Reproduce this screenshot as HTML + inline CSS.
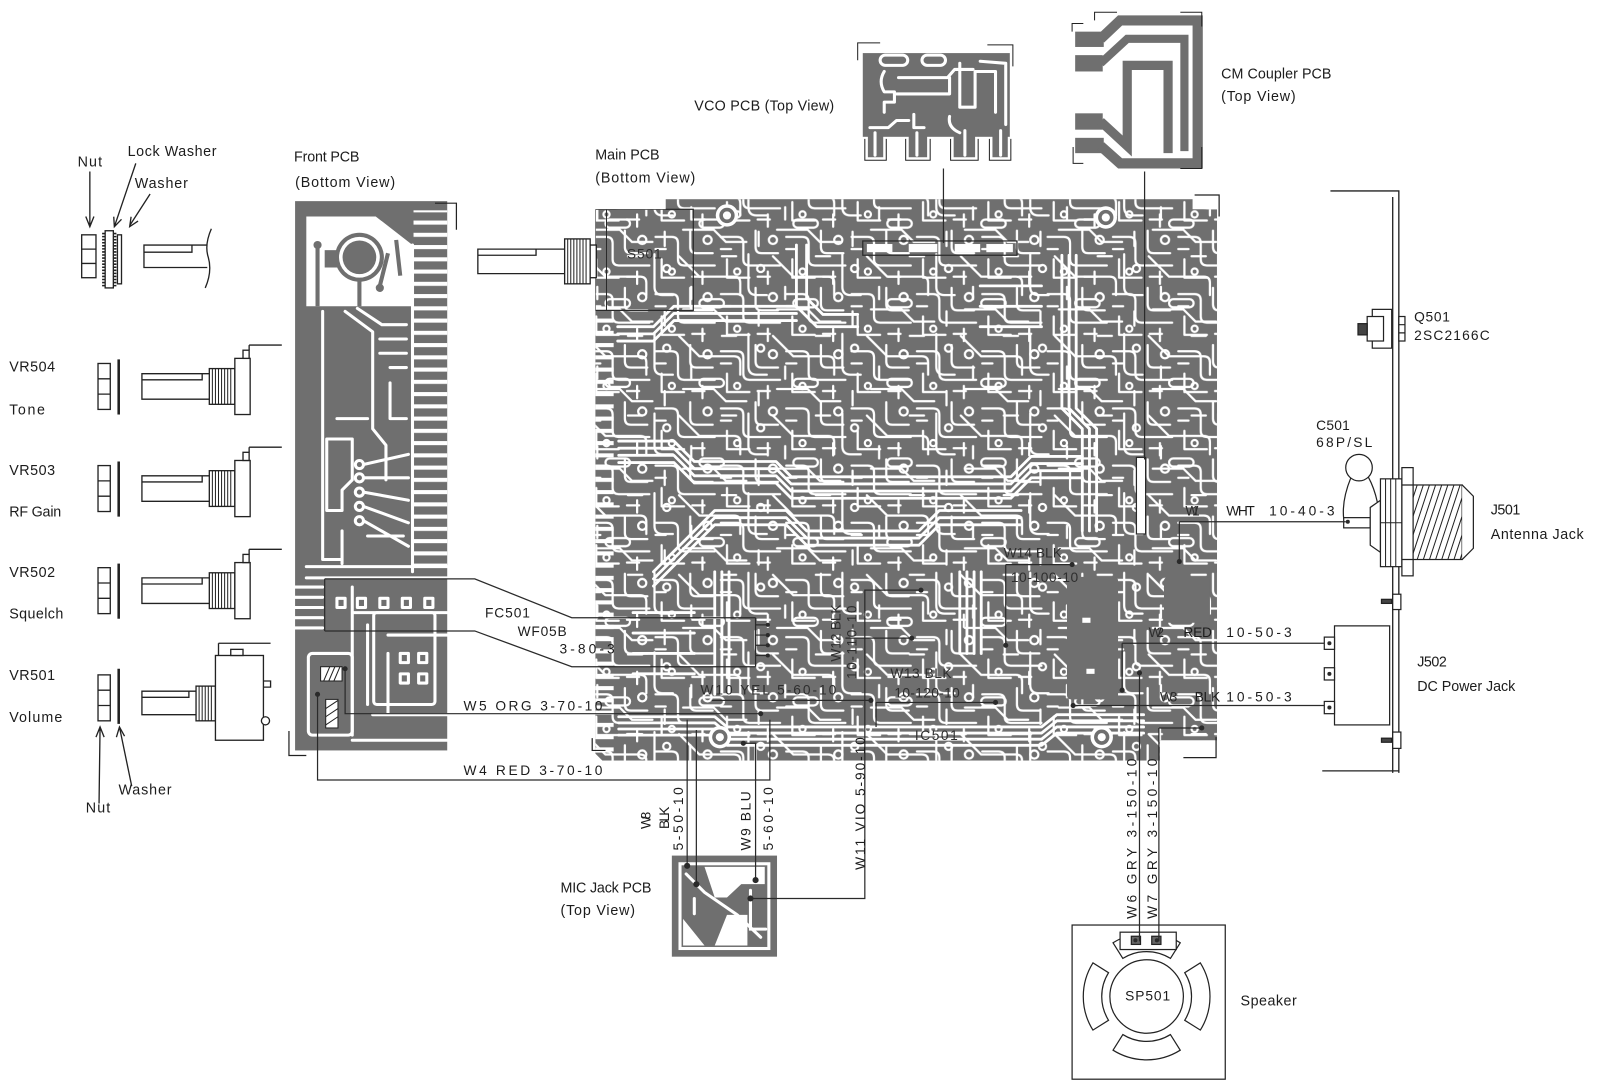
<!DOCTYPE html>
<html><head><meta charset="utf-8"><title>PCB layout</title>
<style>
html,body{margin:0;padding:0;background:#fff;overflow:hidden}
svg{display:block}
text{font-family:"Liberation Sans",sans-serif;fill:#1c1c1c;font-size:14px}
.m{font-size:13.5px}
.g{fill:#2e2e2e}
</style></head><body>
<svg xmlns="http://www.w3.org/2000/svg" width="1601" height="1089" viewBox="0 0 1568 1066.6" preserveAspectRatio="none">
<defs>
<pattern id="p1" width="64" height="56" patternUnits="userSpaceOnUse">
<g fill="none" stroke="#fff" stroke-width="2.2" stroke-linecap="round" stroke-linejoin="round">
<path d="M2,8H18Q24,8 24,14V30Q24,36 30,36H60M2,20H12M36,2V18Q36,24 42,24H58M48,42V54M8,30V48H30M38,47H50"/>
<circle cx="53" cy="11" r="4"/><circle cx="18" cy="42" r="3"/>
</g></pattern>
<pattern id="p2" width="92" height="78" patternUnits="userSpaceOnUse" patternTransform="translate(17,11)">
<g fill="none" stroke="#fff" stroke-width="2.2" stroke-linecap="round" stroke-linejoin="round">
<path d="M4,6L24,26H58Q64,26 64,32V44M72,4V36Q72,44 80,44H90M8,58H38L50,70H70M82,60V74M16,36V48M46,6H60M28,48h16a4,4 0 0 1 0,8h-16a4,4 0 0 1 0,-8z"/>
<circle cx="84" cy="18" r="3.5"/>
</g></pattern>
<pattern id="bars" width="40" height="12" patternUnits="userSpaceOnUse"><rect x="0" y="0" width="40" height="4" fill="#fff"/></pattern>
<clipPath id="mc"><path d="M583,205H652V195H1168V205H1192V725H1136V745H590L583,738Z"/></clipPath>
<clipPath id="thr"><rect x="1384" y="475" width="48" height="73"/></clipPath>
<g id="pot" fill="#fff" stroke="#222" stroke-width="1.3">
<rect x="96" y="356" width="12" height="45"/>
<path d="M96,371H108M96,386H108" fill="none"/>
<rect x="115" y="352" width="2.5" height="54" fill="#222" stroke="none"/>
<path d="M205,366H139V391H205"/>
<path d="M139,372H198V366" fill="none"/>
<rect x="205" y="361" width="25" height="35"/>
<path d="M208,361V396M211,361V396M214,361V396M217,361V396M220,361V396M223,361V396M226,361V396" fill="none" stroke-width="1"/>
<rect x="230" y="351" width="15" height="55"/>
<rect x="238" y="343" width="6" height="8"/>
<path d="M244,338H276M244,338V343" fill="none"/>
</g>
</defs>

<!-- ===== left hardware ===== -->
<g fill="#fff" stroke="#222" stroke-width="1.3">
<rect x="80" y="230" width="14" height="42"/>
<path d="M80,244H94M80,258H94" fill="none"/>
<rect x="103" y="226" width="8" height="56"/>
<line x1="101.5" y1="228" x2="101.5" y2="281" stroke-width="3" stroke-dasharray="1.5,1.5"/>
<line x1="112.5" y1="228" x2="112.5" y2="281" stroke-width="3" stroke-dasharray="1.5,1.5"/>
<rect x="115" y="230" width="4" height="48"/>
<path d="M203,240H141V262H203"/>
<path d="M141,247H188V240" fill="none"/>
<path d="M207,224Q200,240 204,252Q208,266 201,282" fill="none"/>
<path d="M88,168V221M84,212L88,222L92,212" fill="none"/>
<path d="M133,160L112,222M111.4,212.2L112,222L119,214.8" fill="none"/>
<path d="M147,190L127,221M128.4,212.3L127,222L135.2,216.5" fill="none"/>
<path d="M97,787L98,712M94,722L98,712L102,722" fill="none"/>
<path d="M129,770L117,712M114,722L117,712L122,721" fill="none"/>
</g>
<use href="#pot"/>
<use href="#pot" y="100"/>
<use href="#pot" y="200"/>
<g fill="#fff" stroke="#222" stroke-width="1.3">
<rect x="96" y="661" width="12" height="45"/>
<path d="M96,676H108M96,691H108" fill="none"/>
<rect x="115" y="655" width="2.5" height="54" fill="#222" stroke="none"/>
<path d="M192,677H139V700H192"/>
<path d="M139,683H185V677" fill="none"/>
<rect x="192" y="672" width="19" height="34"/>
<path d="M195,672V706M198,672V706M201,672V706M204,672V706M207,672V706" fill="none" stroke-width="1"/>
<rect x="211" y="642" width="47" height="83"/>
<rect x="226" y="636" width="12" height="6"/>
<path d="M214,630H265M214,630V642" fill="none"/>
<path d="M258,667H265V673H258" fill="none"/>
<circle cx="260" cy="706" r="4"/>
</g>

<!-- ===== Front PCB ===== -->
<g>
<rect x="289" y="197" width="149" height="538" fill="#6f6f6f"/>
<path d="M300,212H368L404,240V300H300Z" fill="#fff"/>
<circle cx="352" cy="252" r="24" fill="#6f6f6f"/>
<circle cx="352" cy="252" r="20" fill="#fff"/>
<circle cx="352" cy="252" r="16.5" fill="#6f6f6f"/>
<rect x="318" y="245" width="14" height="17" fill="#6f6f6f"/>
<circle cx="311" cy="240" r="4" fill="#6f6f6f"/>
<path d="M311,240V300M352,272V300M380,248L372,280M388,235L392,270" stroke="#6f6f6f" stroke-width="4" fill="none"/>
<circle cx="372" cy="282" r="4" fill="#6f6f6f"/>
<rect x="405" y="206" width="33" height="356" fill="url(#bars)"/>
<g fill="none" stroke="#fff" stroke-width="3" stroke-linecap="round" stroke-linejoin="round">
<path d="M404,240V560"/>
<path d="M316,305V548H334"/>
<path d="M320,430H345V470L335,480V500H320Z"/>
<path d="M338,305L365,325V420L378,436V470"/>
<path d="M350,302L374,318H398"/>
<path d="M372,332H398M372,346H398M382,360H398M382,375V410H398"/>
<path d="M356,455L400,445M356,468L400,468M356,482L400,490M356,496L400,512M356,510L400,535"/>
<path d="M300,555H438M335,520V552M360,525H395M330,410H360"/>
<circle cx="352" cy="455" r="4"/><circle cx="352" cy="468" r="4"/><circle cx="352" cy="482" r="4"/><circle cx="352" cy="496" r="4"/><circle cx="352" cy="510" r="4"/>
<path d="M289,575H316M289,585H316M289,595H316M289,605H316M289,615H316"/>
<path d="M300,566H438M345,600H438M360,612V690M380,622H438M380,640V700M345,725H438M365,700H438M345,575V720"/>
<rect x="302" y="640" width="43" height="80" rx="4"/>
<rect x="330" y="586" width="8" height="9"/><rect x="350" y="586" width="8" height="9"/><rect x="372" y="586" width="8" height="9"/><rect x="394" y="586" width="8" height="9"/><rect x="416" y="586" width="8" height="9"/>
<rect x="392" y="640" width="8" height="9"/><rect x="410" y="640" width="8" height="9"/><rect x="392" y="660" width="8" height="9"/><rect x="410" y="660" width="8" height="9"/>
<rect x="366" y="600" width="60" height="90" rx="3"/>
</g>
<g fill="#fff" stroke="#222" stroke-width="1">
<rect x="314" y="653" width="21" height="14"/>
<path d="M317,667L323,653M322,667L328,653M327,667L333,653" fill="none"/>
<rect x="319" y="685" width="12" height="28"/>
<path d="M319,694L331,686M319,702L331,694M319,710L331,702" fill="none"/>
</g>
<path d="M283,716V740H300M426,199H447V225" fill="none" stroke="#222" stroke-width="1.2"/>
</g>

<!-- ===== Main PCB ===== -->
<g clip-path="url(#mc)">
<rect x="580" y="190" width="620" height="560" fill="#6f6f6f"/>
<rect x="580" y="190" width="620" height="560" fill="url(#p1)"/>
<rect x="580" y="190" width="620" height="560" fill="url(#p2)"/>
<rect x="583" y="300" width="18" height="440" fill="url(#bars)"/>
<rect x="1045" y="565" width="50" height="120" rx="4" fill="#6f6f6f"/>
<rect x="1140" y="565" width="45" height="45" rx="4" fill="#6f6f6f"/>
<rect x="1060" y="605" width="8" height="5" fill="#fff"/>
<rect x="1064" y="655" width="8" height="5" fill="#fff"/>
<g fill="none" stroke="#fff" stroke-width="2.8" stroke-linecap="round" stroke-linejoin="round">
<path id="bA" d="M606,432H660L680,452H760L775,467H990L1010,447H1060"/>
<use href="#bA" y="7"/><use href="#bA" y="14"/><use href="#bA" y="21"/>
<path id="bB" d="M640,560L700,500H770L790,520H900L920,500H1000"/>
<use href="#bB" y="7"/><use href="#bB" y="14"/>
<path id="bC" d="M606,702H700L712,712H1020L1035,700H1120"/>
<use href="#bC" y="6"/><use href="#bC" y="12"/><use href="#bC" y="18"/>
<path id="bE" d="M605,320H640L660,300H780"/>
<use href="#bE" y="7"/><use href="#bE" y="14"/>
<path id="bF" d="M1040,250V400L1060,420V520"/>
<use href="#bF" x="7"/><use href="#bF" x="14"/>
<path id="bG" d="M940,560V640"/>
<use href="#bG" x="7"/><use href="#bG" x="14"/><use href="#bG" x="21"/>
<path id="bH" d="M700,560V680"/>
<use href="#bH" x="7"/><use href="#bH" x="14"/>
<path d="M620,600H680M620,620H680M620,640H680M620,660H680"/>
<path d="M960,280H1020M960,300H1020M960,320H1020"/>
<path d="M780,240V300L800,320H840M790,240V292L806,308H840"/>
</g>
<g>
<circle cx="712" cy="211" r="11" fill="#fff"/><circle cx="712" cy="211" r="7.5" fill="#6f6f6f"/><circle cx="712" cy="211" r="4" fill="#fff"/>
<circle cx="1083" cy="213" r="11" fill="#fff"/><circle cx="1083" cy="213" r="7.5" fill="#6f6f6f"/><circle cx="1083" cy="213" r="4" fill="#fff"/>
<circle cx="705" cy="722" r="11" fill="#fff"/><circle cx="705" cy="722" r="7.5" fill="#6f6f6f"/><circle cx="705" cy="722" r="4" fill="#fff"/>
<circle cx="1079" cy="722" r="11" fill="#fff"/><circle cx="1079" cy="722" r="7.5" fill="#6f6f6f"/><circle cx="1079" cy="722" r="4" fill="#fff"/>
</g>
<g fill="#fff"><rect x="849" y="239" width="25" height="8"/><rect x="890" y="239" width="28" height="8"/><rect x="935" y="239" width="25" height="8"/><rect x="966" y="239" width="26" height="8"/></g>
<rect x="845" y="236" width="151" height="14" fill="none" stroke="#2a2a2a" stroke-width="1.2"/>
<rect x="1113" y="448" width="9" height="75" fill="#fff" stroke="#2a2a2a" stroke-width="1.2"/>
<rect x="583" y="205" width="96" height="99" fill="none" stroke="#2a2a2a" stroke-width="1.2"/>
<path d="M594,205V304" stroke="#2a2a2a" stroke-width="1"/>
</g>
<path d="M580,723V735H593M1159,742H1191V722M1170,191H1194V212" fill="none" stroke="#222" stroke-width="1.2"/>

<!-- S501 shaft -->
<g fill="#fff" stroke="#222" stroke-width="1.3">
<path d="M553,244H468V268H553"/>
<path d="M468,250H525V244" fill="none"/>
<rect x="553" y="234" width="25" height="44"/>
<path d="M556,234V278M559,234V278M562,234V278M565,234V278M568,234V278M571,234V278M574,234V278" fill="none" stroke-width="1"/>
<rect x="578" y="240" width="6" height="32"/>
</g>

<!-- ===== VCO PCB ===== -->
<g>
<rect x="845" y="52" width="144" height="82" fill="#6f6f6f"/>
<rect x="850" y="132" width="15" height="22" fill="#6f6f6f"/><rect x="890" y="132" width="18" height="22" fill="#6f6f6f"/><rect x="934" y="132" width="21" height="22" fill="#6f6f6f"/><rect x="972" y="132" width="15" height="22" fill="#6f6f6f"/>
<g fill="none" stroke="#fff" stroke-width="3" stroke-linecap="round" stroke-linejoin="round">
<rect x="862" y="54" width="27" height="10" rx="5"/><rect x="903" y="54" width="23" height="10" rx="5"/>
<path d="M866,70Q860,80 866,90H876V100H866V110"/>
<path d="M880,76H928L935,68H953"/>
<path d="M878,92H930V76"/>
<path d="M940,62V105H955V70H975V110"/>
<path d="M960,60L985,62V122"/>
<path d="M852,125H870L878,118H890M895,112V125H905M930,114Q928,125 940,130"/>
<path d="M857,130V152M898,130V152M945,128V152M980,128V152"/>
</g>
<path d="M847,136V157H868V136M887,136V157H911V136M931,136V157H958V136M969,136V157H990V136M840,59V42H862M967,44H992V65" fill="none" stroke="#222" stroke-width="1"/>
</g>

<!-- ===== CM Coupler ===== -->
<g>
<rect x="1053" y="31" width="28" height="15" fill="#6f6f6f"/><rect x="1053" y="54" width="27" height="16" fill="#6f6f6f"/><rect x="1053" y="111" width="27" height="16" fill="#6f6f6f"/><rect x="1053" y="135" width="28" height="15" fill="#6f6f6f"/>
<g fill="none" stroke="#6f6f6f" stroke-linejoin="miter">
<path d="M1078,38L1097,20H1173V160H1097L1078,143" stroke-width="10"/>
<path d="M1078,62L1104,38H1160V148" stroke-width="8"/>
<path d="M1078,119L1104,143V64H1144V150" stroke-width="9"/>
</g>
<path d="M1050,31V23H1061M1072,20V12H1094M1156,12H1177V26M1051,144V160H1061M1177,144V165H1156" fill="none" stroke="#222" stroke-width="1"/>
</g>

<!-- ===== right bracket & parts ===== -->
<g fill="none" stroke="#222" stroke-width="1.3">
<path d="M1303,187H1370V757"/>
<path d="M1364,193V757"/>
<path d="M1295,755H1370"/>
</g>
<g fill="#fff" stroke="#222" stroke-width="1.2">
<rect x="1344" y="303" width="19" height="38"/>
<rect x="1339" y="310" width="16" height="24"/>
<rect x="1330" y="317" width="9" height="11" fill="#444"/>
<rect x="1370" y="310" width="6" height="24"/>
<path d="M1370,318H1376M1370,326H1376" fill="none"/>
<circle cx="1331" cy="458" r="13"/>
<path d="M1323,468Q1314,490 1316,508M1340,467Q1346,478 1349,492" fill="none"/>
<rect x="1316" y="507" width="26" height="10"/>
<path d="M1342,497L1352,490V541L1342,534Z"/>
<rect x="1352" y="469" width="21" height="86"/>
<path d="M1357,469V555M1362,469V555M1367,469V555M1352,512H1373" fill="none" stroke-width="1"/>
<rect x="1373" y="458" width="11" height="106"/>
<path d="M1373,475H1384M1373,548H1384" fill="none"/>
<rect x="1384" y="475" width="48" height="73"/>
<g clip-path="url(#thr)"><path d="M1364,548L1388,475M1370,548L1394,475M1376,548L1400,475M1382,548L1406,475M1388,548L1412,475M1394,548L1418,475M1400,548L1424,475M1406,548L1430,475M1412,548L1436,475M1418,548L1442,475M1424,548L1448,475M1430,548L1454,475" fill="none" stroke-width="1"/></g>
<path d="M1432,475L1443,486V537L1432,548"/>
<rect x="1307" y="613" width="54" height="97"/>
<rect x="1297" y="624" width="10" height="12"/><rect x="1297" y="654" width="10" height="12"/><rect x="1297" y="687" width="10" height="12"/>
<rect x="1364" y="582" width="8" height="15"/><rect x="1353" y="587" width="10" height="4" fill="#444"/>
<rect x="1364" y="717" width="8" height="16"/><rect x="1353" y="723" width="10" height="4" fill="#444"/>
</g>

<!-- ===== MIC Jack PCB ===== -->
<g>
<rect x="658" y="838" width="103" height="99" fill="#6f6f6f"/>
<rect x="666" y="846" width="87" height="83" fill="none" stroke="#fff" stroke-width="3"/>
<path d="M690,849H749V866H726L712,879H700Z" fill="#fff"/>
<path d="M712,896H732V926H700Z" fill="#fff"/>
<path d="M669,900L690,926H669Z" fill="#fff"/>
<g fill="none" stroke="#fff" stroke-width="3" stroke-linecap="round">
<path d="M672,856L690,874L722,896L745,918"/>
<path d="M735,872V910H750"/>
<path d="M680,880V895"/>
</g>
</g>

<!-- ===== Speaker ===== -->
<g fill="#fff" stroke="#222" stroke-width="1.2">
<rect x="1050" y="906" width="150" height="151"/>
<path d="M1090.1,923.4A62,62 0 0 1 1155.9,923.4L1146.3,938.7A44,44 0 0 0 1099.7,938.7Z"/>
<path d="M1175.6,943.1A62,62 0 0 1 1175.6,1008.9L1160.3,999.3A44,44 0 0 0 1160.3,952.7Z"/>
<path d="M1155.9,1028.6A62,62 0 0 1 1090.1,1028.6L1099.7,1013.3A44,44 0 0 0 1146.3,1013.3Z"/>
<path d="M1070.4,1008.9A62,62 0 0 1 1070.4,943.1L1085.7,952.7A44,44 0 0 0 1085.7,999.3Z"/>
<circle cx="1123" cy="976" r="36"/>
<rect x="1097" y="913" width="55" height="17"/>
<rect x="1108" y="917" width="9" height="8" fill="#666"/>
<rect x="1128" y="917" width="9" height="8" fill="#666"/>
</g>

<!-- ===== wires ===== -->
<g fill="none" stroke="#2a2a2a" stroke-width="1.2">
<path d="M318,567H465L560,605H740"/>
<path d="M318,618H465L560,653H740"/>
<path d="M318,567V618M740,605V653M740,612H752M740,622H752M740,632H752M740,642H752"/>
<path d="M338,655V699H745"/>
<path d="M311,680V764H754V705"/>
<path d="M673,705V848M682,715V866"/>
<path d="M728,728H740V862"/>
<path d="M902,578H847V880H735"/>
<path d="M697,686H853"/>
<path d="M858,688H975M858,688V712"/>
<path d="M828,625H893"/>
<path d="M985,553H1050M985,553V632"/>
<path d="M1155,511H1318M1155,511V550"/>
<path d="M1099,630H1297M1099,630V676"/>
<path d="M1051,691H1297"/>
<path d="M1116,659V922M1135,713V922M1135,713H1177"/>
<path d="M924,165V238M1121,168V450"/>
</g>
<g fill="#2a2a2a">
<circle cx="338" cy="655" r="2.5"/><circle cx="311" cy="680" r="2.5"/><circle cx="745" cy="699" r="2.5"/>
<circle cx="673" cy="848" r="3"/><circle cx="682" cy="866" r="3"/><circle cx="740" cy="862" r="3"/><circle cx="735" cy="880" r="3"/><circle cx="728" cy="728" r="2.5"/>
<circle cx="902" cy="578" r="2.5"/><circle cx="853" cy="686" r="2.5"/><circle cx="975" cy="688" r="2.5"/><circle cx="893" cy="625" r="2.5"/>
<circle cx="1050" cy="553" r="2.5"/><circle cx="985" cy="632" r="2.5"/><circle cx="1155" cy="550" r="2.5"/>
<circle cx="1099" cy="676" r="2.5"/><circle cx="1051" cy="691" r="2.5"/><circle cx="1116" cy="659" r="2.5"/><circle cx="1177" cy="713" r="2.5"/>
<circle cx="1302" cy="630" r="2"/><circle cx="1302" cy="660" r="2"/><circle cx="1302" cy="693" r="2"/><circle cx="1320" cy="511" r="2"/>
<circle cx="1112" cy="921" r="2"/><circle cx="1133" cy="921" r="2"/>
<circle cx="752" cy="612" r="2"/><circle cx="752" cy="622" r="2"/><circle cx="752" cy="632" r="2"/><circle cx="752" cy="642" r="2"/>
</g>

<!-- ===== labels ===== -->
<text x="76" y="163" textLength="24">Nut</text>
<text x="125" y="153" textLength="87">Lock Washer</text>
<text x="132" y="184" textLength="52">Washer</text>
<text x="288" y="158" textLength="64">Front PCB</text>
<text x="289" y="183" textLength="98">(Bottom View)</text>
<text x="583" y="156" textLength="63">Main PCB</text>
<text x="583" y="179" textLength="98">(Bottom View)</text>
<text x="680" y="108" textLength="137">VCO PCB (Top View)</text>
<text x="1196" y="77" textLength="108">CM Coupler PCB</text>
<text x="1196" y="99" textLength="73">(Top View)</text>
<text x="9" y="364" textLength="45">VR504</text>
<text x="9" y="406" textLength="35">Tone</text>
<text x="9" y="465" textLength="45">VR503</text>
<text x="9" y="506" textLength="51">RF Gain</text>
<text x="9" y="565" textLength="45">VR502</text>
<text x="9" y="606" textLength="53">Squelch</text>
<text x="9" y="666" textLength="45">VR501</text>
<text x="9" y="707" textLength="52">Volume</text>
<text x="116" y="778" textLength="52">Washer</text>
<text x="84" y="796" textLength="24">Nut</text>
<text x="1460" y="504" textLength="29">J501</text>
<text x="1460" y="528" textLength="91">Antenna Jack</text>
<text x="1388" y="653" textLength="29">J502</text>
<text x="1388" y="677" textLength="96">DC Power Jack</text>
<text x="549" y="874" textLength="89">MIC Jack PCB</text>
<text x="549" y="896" textLength="73">(Top View)</text>
<text x="1215" y="985" textLength="55">Speaker</text>

<g class="m">
<text class="m" x="1385" y="315" textLength="35">Q501</text>
<text class="m" x="1385" y="333" textLength="74">2SC2166C</text>
<text class="m" x="1289" y="421" textLength="33">C501</text>
<text class="m" x="1289" y="438" textLength="55">68P/SL</text>
<text class="m g" x="1161" y="505" textLength="14">W1</text>
<text class="m" x="1201" y="505" textLength="28">WHT</text>
<text class="m" x="1243" y="505" textLength="64">10-40-3</text>
<text class="m g" x="1125" y="624" textLength="15">W2</text>
<text class="m" x="1159" y="624" textLength="28">RED</text>
<text class="m" x="1201" y="624" textLength="64">10-50-3</text>
<text class="m g" x="1136" y="687" textLength="17">W3</text>
<text class="m" x="1170" y="687" textLength="25">BLK</text>
<text class="m" x="1201" y="687" textLength="64">10-50-3</text>
<text class="m g" x="983" y="546" textLength="57">W14 BLK</text>
<text class="m g" x="990" y="570" textLength="66">10-100-10</text>
<text class="m" x="475" y="605" textLength="44">FC501</text>
<text class="m" x="507" y="623" textLength="48">WF05B</text>
<text class="m" x="548" y="640" textLength="54">3-80-3</text>
<text class="m" x="454" y="696" textLength="136">W5 ORG 3-70-10</text>
<text class="m" x="454" y="759" textLength="136">W4 RED 3-70-10</text>
<text class="m g" x="686" y="680" textLength="133">W10 YEL 5-60-10</text>
<text class="m g" x="872" y="664" textLength="60">W13 BLK</text>
<text class="m g" x="876" y="683" textLength="64">10-120-10</text>
<text class="m g" x="896" y="725" textLength="42">IC501</text>
<text class="m g" x="614" y="253" textLength="34">S501</text>
<text class="m" x="1102" y="980" textLength="44">SP501</text>
<text class="m" transform="translate(637,812) rotate(-90)" textLength="17">W8</text>
<text class="m" transform="translate(655,812) rotate(-90)" textLength="22">BLK</text>
<text class="m" transform="translate(669,833) rotate(-90)" textLength="62">5-50-10</text>
<text class="m" transform="translate(735,833) rotate(-90)" textLength="58">W9 BLU</text>
<text class="m" transform="translate(757,833) rotate(-90)" textLength="62">5-60-10</text>
<text class="m" transform="translate(847,852) rotate(-90)" textLength="130">W11 VIO 5-90-10</text>
<text class="m" transform="translate(1113,900) rotate(-90)" textLength="157">W6  GRY  3-150-10</text>
<text class="m" transform="translate(1133,900) rotate(-90)" textLength="157">W7  GRY  3-150-10</text>
<text class="m g" transform="translate(823,648) rotate(-90)" textLength="56">W12 BLK</text>
<text class="m g" transform="translate(839,665) rotate(-90)" textLength="72">10-110-10</text>
</g>
</svg>
</body></html>
